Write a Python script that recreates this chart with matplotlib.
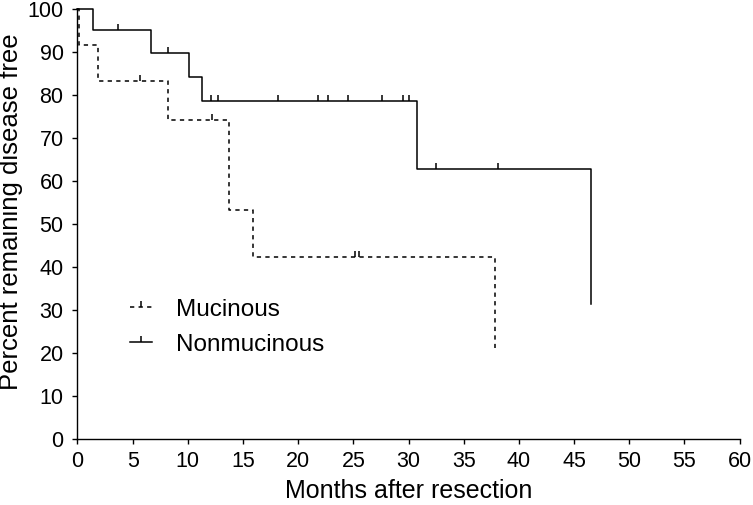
import numpy as np
import matplotlib
matplotlib.use("Agg")
import matplotlib.pyplot as plt
from matplotlib.path import Path
from matplotlib.lines import Line2D

plt.rcParams["font.family"] = ["Liberation Sans", "DejaVu Sans"]

# ─── Datos ────────────────────────────────────────────────────────────────────

# Nonmucinous: tiempos de evento (meses) y supervivencia (%)
non_times = [0, 1.43, 6.66, 10.1, 11.28, 30.8, 46.5]
non_surv  = [100, 95.1, 89.8, 84.3, 78.7, 62.9, 31.4]
non_cens  = [3.7, 8.18, 12.1, 12.77, 18.2, 21.8, 22.7, 24.55, 27.6, 29.5, 30.0, 32.5, 38.1]

# Mucinous
muc_times = [0, 0.14, 1.9, 8.23, 13.76, 15.94, 37.8]
muc_surv  = [100, 91.7, 83.3, 74.2, 53.2, 42.4, 21.1]
muc_cens  = [5.67, 12.17, 25.16, 25.55]

x_ticks = list(range(0, 61, 5))
y_ticks = list(range(0, 101, 10))

labels = ["Mucinous", "Nonmucinous"]


def surv_at(times, surv, t):
    """Valor de la curva escalonada en el tiempo t."""
    idx = np.searchsorted(times, t, side="right") - 1
    return np.asarray(surv)[idx]


# marca de censura: trazo vertical hacia arriba
cens_marker = Path([(0, 0), (0, 1)], [Path.MOVETO, Path.LINETO])

fig = plt.figure(figsize=(7.53, 5.05), dpi=100)
ax = fig.add_axes([0.1029, 0.1307, 0.8792, 0.8515])

lw = 1.1
ax.step(muc_times, muc_surv, where="post", color="black", lw=lw,
        ls=(0, (2.8, 2.8)), clip_on=False)
ax.step(non_times, non_surv, where="post", color="black", lw=lw,
        clip_on=False)

ax.plot(muc_cens, surv_at(muc_times, muc_surv, muc_cens), ls="none",
        marker=cens_marker, ms=9, mew=lw, color="black", clip_on=False)
ax.plot(non_cens, surv_at(non_times, non_surv, non_cens), ls="none",
        marker=cens_marker, ms=9, mew=lw, color="black", clip_on=False)

# ─── Ejes ─────────────────────────────────────────────────────────────────────
ax.set_xlim(0, 60)
ax.set_ylim(0, 100)
ax.set_xticks(x_ticks)
ax.set_yticks(y_ticks)
ax.spines["top"].set_visible(False)
ax.spines["right"].set_visible(False)
for s in ("left", "bottom"):
    ax.spines[s].set_linewidth(1.0)
ax.tick_params(axis="both", direction="out", length=3.5, width=1.0,
               labelsize=15.5)
ax.tick_params(axis="x", pad=5.5)
ax.tick_params(axis="y", pad=6.5)

ax.set_xlabel("Months after resection", fontsize=18, labelpad=5)
ax.set_ylabel("Percent remaining disease free", fontsize=18.5, labelpad=3)
ax.yaxis.label.set_y(0.528)

# ─── Leyenda ──────────────────────────────────────────────────────────────────
handles = [
    Line2D([], [], color="black", lw=lw, ls=(0, (2.8, 2.8)),
           marker=cens_marker, ms=9, mew=lw),
    Line2D([], [], color="black", lw=lw, marker=cens_marker, ms=9, mew=lw),
]
ax.legend(handles, labels, loc="upper left", bbox_to_anchor=(0.065, 0.349),
          frameon=False, fontsize=17.5, handlelength=0.9, handletextpad=1.0,
          labelspacing=0.54, numpoints=1, borderaxespad=0)

fig.savefig("out.png", dpi=100)
